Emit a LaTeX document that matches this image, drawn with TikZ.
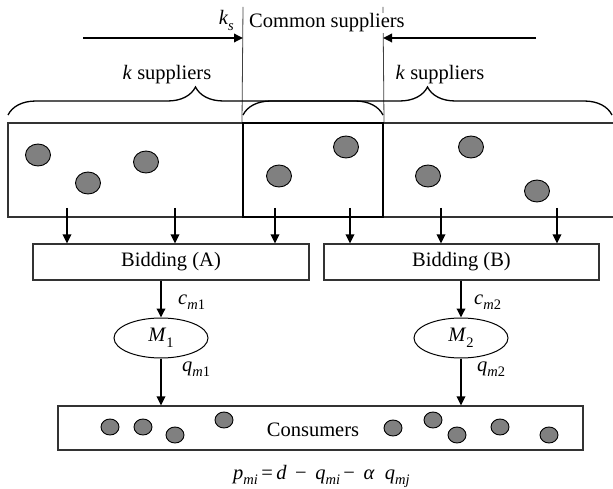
\documentclass[tikz,border=0pt]{standalone}
\usepackage{fontspec}
\setmainfont{Liberation Serif}
\usetikzlibrary{arrows.meta,shapes.geometric,decorations.pathreplacing}
\newcommand{\sbs}[1]{\raisebox{-0.28em}{\fontsize{14.5}{14.5}\selectfont #1}}
\begin{document}
\begin{tikzpicture}[x=1pt,y=-1pt,
  every node/.style={font=\fontsize{20.5}{24}\selectfont},
  arr/.style={line width=1.8pt,-{Triangle[length=9pt,width=8.5pt]}},
  supdot/.style={draw=black,line width=0.9pt,fill=black!50,ellipse,minimum width=25pt,minimum height=22pt,inner sep=0pt},
  condot/.style={draw=black,line width=0.9pt,fill=black!50,ellipse,minimum width=18pt,minimum height=16pt,inner sep=0pt},
  box/.style={draw=black!80,line width=1.2pt,rectangle,inner sep=0pt},
  guide/.style={draw=black!75,line width=0.8pt},
  brc/.style={draw=black,line width=1.3pt,decorate,decoration={brace,amplitude=28pt}},
  lbl/.style={inner sep=0pt}]
\useasboundingbox (0,0) rectangle (613,489);

% supplier box
\node[box,minimum width=612pt,minimum height=94pt] (sup) at (314,170) {};
\node[draw=black,line width=2pt,rectangle,inner sep=0pt,minimum width=140pt,minimum height=94pt] (common) at (313,170) {};

% guide lines
\coordinate (gl) at (243,7);
\coordinate (gr) at (383,7);
\draw[guide] (gl) -- (common.north west);
\draw[guide] (gr) -- (common.north east);

% braces
\coordinate (b1) at (8,115);
\coordinate (b2) at (383,115);
\coordinate (b3) at (243,115);
\coordinate (b4) at (612,115);
\draw[brc] (b1) -- (b2);
\draw[brc] (b3) -- (b4);

% top arrows
\coordinate (al) at (83,38);
\coordinate (ar) at (536,38);
\draw[arr] (al) -- (gl |- al);
\draw[arr] (ar) -- (gr |- ar);

% top texts
\node[lbl,anchor=base east] (ks) at (234,25) {\textit{k}\sbs{\textit{s}}};
\node[inner sep=1pt,fill=white,anchor=base west] (cs) at (248,28) {Common suppliers};
\node[lbl,anchor=base] (kl) at (167,80) {\textit{k} suppliers};
\node[lbl,anchor=base] (kr) at (440,80) {\textit{k} suppliers};

% supplier dots
\node[supdot] (s1) at (38,155) {};
\node[supdot] (s2) at (88,183) {};
\node[supdot] (s3) at (146,162) {};
\node[supdot] (s4) at (279,176) {};
\node[supdot] (s5) at (346,147) {};
\node[supdot] (s6) at (428,176) {};
\node[supdot] (s7) at (471,147) {};
\node[supdot] (s8) at (537,191) {};

% bidding boxes
\node[box,minimum width=276pt,minimum height=36pt] (bidA) at (171,262) {Bidding (A)};
\node[box,minimum width=275pt,minimum height=36pt] (bidB) at (461.5,262) {Bidding (B)};

% arrows to bidding
\foreach \x/\b in {67/bidA,175/bidA,275/bidA} {
  \coordinate (t\x) at (\x,208);
  \draw[arr] (t\x) -- (t\x |- \b.north);
}
\foreach \x/\b in {350/bidB,441/bidB,557/bidB} {
  \coordinate (t\x) at (\x,208);
  \draw[arr] (t\x) -- (t\x |- \b.north);
}

% manufacturers
\node[draw=black,line width=1pt,ellipse,inner sep=0pt,minimum width=94pt,minimum height=40pt] (M1) at (161,338) {\textit{M}\sbs{1}};
\node[draw=black,line width=1pt,ellipse,inner sep=0pt,minimum width=94pt,minimum height=40pt] (M2) at (461,338) {\textit{M}\sbs{2}};

\draw[arr] (M1.north |- bidA.south) -- (M1.north);
\draw[arr] (M2.north |- bidB.south) -- (M2.north);

\node[lbl,anchor=base west] (c1) at (178,304) {\textit{c}\sbs{\textit{m}1}};
\node[lbl,anchor=base west] (c2) at (474,304) {\textit{c}\sbs{\textit{m}2}};

% consumers
\node[box,minimum width=525pt,minimum height=44pt] (cons) at (320.5,428) {};
\node[lbl] (ctext) at (313,430) {Consumers};

\draw[arr] (M1.south) -- (M1.south |- cons.north);
\draw[arr] (M2.south) -- (M2.south |- cons.north);

\node[lbl,anchor=base west] (q1) at (182,371) {\textit{q}\sbs{\textit{m}1}};
\node[lbl,anchor=base west] (q2) at (477,371) {\textit{q}\sbs{\textit{m}2}};

\node[condot] (d1) at (110,427) {};
\node[condot] (d2) at (143,427) {};
\node[condot] (d3) at (175,435) {};
\node[condot] (d4) at (224,420) {};
\node[condot] (d5) at (393,428) {};
\node[condot] (d6) at (433,420) {};
\node[condot] (d7) at (457,435) {};
\node[condot] (d8) at (500,427) {};
\node[condot] (d9) at (549,435) {};

% formula
\node[lbl,anchor=base west] (f) at (233,479) {\textit{p}\sbs{\textit{mi}}\,=\,\textit{d}\, −\, \textit{q}\sbs{\textit{mi}}\,−\, \textit{α}\ \ \textit{q}\sbs{\textit{mj}}};
\end{tikzpicture}
\end{document}
